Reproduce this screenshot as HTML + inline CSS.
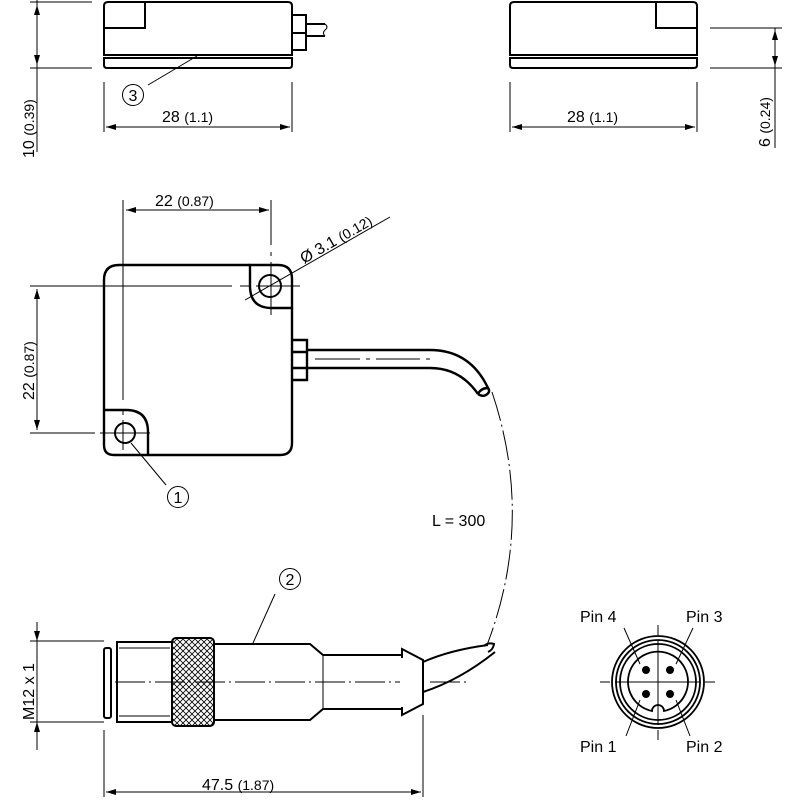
<!DOCTYPE html>
<html><head><style>html,body{margin:0;padding:0;background:#fff}svg{display:block}text{font-family:"Liberation Sans",sans-serif;fill:#000}</style></head>
<body>
<svg width="800" height="800" viewBox="0 0 800 800" xmlns="http://www.w3.org/2000/svg">
<defs>
<marker id="a" viewBox="0 0 10 6" refX="10" refY="3" markerWidth="11" markerHeight="6" orient="auto-start-reverse" markerUnits="userSpaceOnUse"><path d="M0,0L10,3L0,6z" fill="#000"/></marker>
<pattern id="k" width="6" height="6" patternUnits="userSpaceOnUse"><path d="M0,0L6,6M6,0L0,6" stroke="#000" stroke-width="0.8"/></pattern>
</defs>
<g fill="none" stroke="#000">
<g stroke-width="2">
<path d="M104,55V6q0,-4 4,-4H288q4,0 4,4V55Z"/>
<path d="M104,58H292V65q0,3 -3,3H107q-3,0 -3,-3Z"/>
<path d="M145,2V28H105"/>
<path d="M292,15H306V50H292M292,33H306"/>
<path d="M306,24H325M306,36H325"/>
</g>
<path d="M325,24q4,3 0,6q-3,3 0,6" stroke-width="1"/>
<g stroke-width="1">
<path d="M30,2H92M30,68H92M37,0V152"/>
<path d="M37,5V65" marker-start="url(#a)" marker-end="url(#a)"/>
<path d="M104,82V132M292,82V132"/>
<path d="M106,127H290" marker-start="url(#a)" marker-end="url(#a)"/>
<path d="M148,85L197,56"/>
<circle cx="133" cy="95" r="10.5"/>
</g>
<g stroke-width="2">
<path d="M510,55V6q0,-4 4,-4H693q4,0 4,4V55Z"/>
<path d="M510,58H697V65q0,3 -3,3H513q-3,0 -3,-3Z"/>
<path d="M656,2V28H696"/>
</g>
<g stroke-width="1">
<path d="M710,28H782M710,68H782M775,28V148"/>
<path d="M775,30V66" marker-start="url(#a)" marker-end="url(#a)"/>
<path d="M510,82V132M697,82V132"/>
<path d="M512,127H695" marker-start="url(#a)" marker-end="url(#a)"/>
</g>
<g stroke-width="2.4">
<path d="M250,265H119q-15,0 -15,15V445q0,10 10,10H148M148,455H280q12,0 12,-12V308"/>
<path d="M250,265H278q14,0 14,14V308H272q-22,0 -22,-22Z"/>
<path d="M104,410H126q22,0 22,22V455"/>
<path d="M292,340H307V380H292M292,352H307M292,368H307"/>
<path d="M307,350H430q40,0 58,38M307,368H430q30,0 48,26"/>
<path d="M478,394q3,-6 10,-6q3,4 -2,7q-4,2 -8,-1"/>
</g>
<circle cx="270" cy="286" r="11" stroke-width="2"/>
<circle cx="125" cy="433" r="10" stroke-width="2"/>
<g stroke-width="1">
<path d="M30,286H232M240,286H250M256,286H300"/>
<path d="M30,433H95M100,433H150"/>
<path d="M123,200V400M123,410V415M123,420V450"/>
<path d="M271,200V245M271,252V256M271,262V315"/>
<path d="M126,210H269" marker-start="url(#a)" marker-end="url(#a)"/>
<path d="M37,289V430" marker-start="url(#a)" marker-end="url(#a)"/>
<path d="M245,300L390,217"/>
<path d="M315,359H360M366,359H370M376,359H420M426,359H430" />
<path d="M131,443L166,485"/>
<circle cx="178" cy="497" r="10.5"/>
<path d="M492,392Q535,520 487,645" stroke-dasharray="30,4,2,4"/>
</g>
<g stroke-width="2">
<rect x="104" y="648" width="7" height="70" rx="2"/>
<path d="M172,642H117V722H172"/>
<path d="M119,648H170M119,716H170" stroke-width="1"/>
<rect x="172" y="638" width="42" height="88" rx="4" fill="url(#k)"/>
<path d="M214,644H310L323,655H402M214,720H310L323,709H402"/>
<path d="M323,655V709" stroke-width="1"/>
<path d="M402,658L402,649L423,660V704L402,715V707"/>
<path d="M423,662Q450,650 488,645M423,692Q460,680 495,652"/>
<path d="M484,646q4,-4 10,-2q-1,6 -6,8"/>
</g>
<g stroke-width="1">
<path d="M115,682H400M430,682H470" stroke-dasharray="30,4,2,4"/>
<path d="M30,641H104M30,722H104M37,622V750"/>
<path d="M37,622V641" marker-end="url(#a)"/>
<path d="M37,750V722" marker-end="url(#a)"/>
<path d="M104,730V797M423,715V797"/>
<path d="M106,792H421" marker-start="url(#a)" marker-end="url(#a)"/>
<path d="M275,594L253,643"/>
<circle cx="290" cy="579" r="10.5"/>
</g>
<g stroke-width="1.8">
<circle cx="658" cy="682" r="46"/>
<circle cx="658" cy="682" r="42"/>
<circle cx="658" cy="682" r="38"/>
<path d="M652,711A30,30 0 1 1 664,711A6,6 0 0 0 652,711Z"/>
</g>
<g fill="#000" stroke="none">
<circle cx="646" cy="670" r="4"/><circle cx="670" cy="670" r="4"/>
<circle cx="646" cy="694" r="4"/><circle cx="670" cy="694" r="4"/>
</g>
<g stroke-width="1">
<path d="M600,682H610M615,682H700M705,682H715" />
<path d="M658,625V635M658,640V725M658,730V740"/>
<path d="M624,628L640,664M693,628L676,664M626,736L640,700M690,736L676,700"/>
</g>
</g>
<g font-size="16">
<text x="133" y="101" text-anchor="middle" font-size="16">3</text>
<text x="178" y="503" text-anchor="middle" font-size="16">1</text>
<text x="290" y="585" text-anchor="middle" font-size="16">2</text>
<text x="162" y="122">28 <tspan font-size="14">(1.1)</tspan></text>
<text x="567" y="122">28 <tspan font-size="14">(1.1)</tspan></text>
<text x="155" y="206">22 <tspan font-size="14">(0.87)</tspan></text>
<text x="202" y="790">47.5 <tspan font-size="14">(1.87)</tspan></text>
<text transform="translate(34,158) rotate(-90)">10 <tspan font-size="14">(0.39)</tspan></text>
<text transform="translate(34,400) rotate(-90)">22 <tspan font-size="14">(0.87)</tspan></text>
<text transform="translate(770,147) rotate(-90)">6 <tspan font-size="14">(0.24)</tspan></text>
<text transform="translate(34,720) rotate(-90)">M12 x 1</text>
<text transform="translate(304,264) rotate(-30)">Ø 3.1 <tspan font-size="14">(0.12)</tspan></text>
<text x="432" y="526">L = 300</text>
<text x="580" y="622">Pin 4</text>
<text x="686" y="622">Pin 3</text>
<text x="580" y="752">Pin 1</text>
<text x="686" y="752">Pin 2</text>
</g>
</svg>
</body></html>
